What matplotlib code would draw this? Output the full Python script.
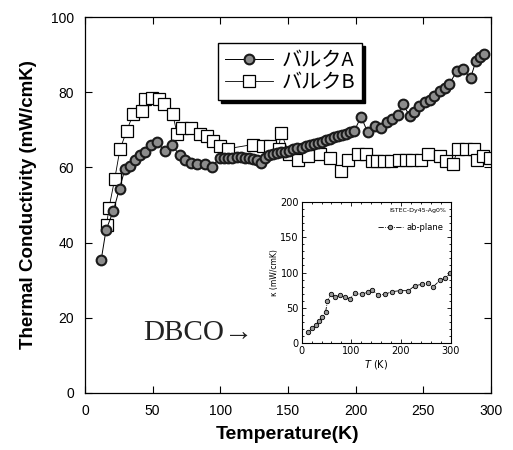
import matplotlib
matplotlib.use("Agg")
import matplotlib.pyplot as plt
from matplotlib.ticker import MultipleLocator

# ---- Data: main panel ----
bulkA_T = [12, 15.5, 21, 25.5, 29.5, 33, 37, 40.5, 44, 49, 53, 59, 64,
           70, 74, 78.5, 83, 88.5, 93.5, 99.5, 103, 106, 109, 112, 115,
           118, 121, 124, 127, 130, 133, 136, 139, 142, 145, 148, 151,
           154, 157, 160, 163, 166, 169, 172, 175, 178, 181, 184, 187,
           190, 193, 196, 199, 204, 209, 214, 219, 223, 227, 231, 235,
           240, 243, 247, 251, 255, 258, 262, 266, 269, 275, 279, 285,
           289, 292, 295]
bulkA_k = [35.5, 43.3, 48.5, 54.4, 59.5, 60.5, 62.1, 63.2, 64.0, 65.9, 66.8,
           64.4, 66.1, 63.2, 62.1, 61.1, 60.8, 60.8, 60.0, 62.6, 62.4, 62.5,
           62.6, 62.8, 62.7, 62.4, 62.6, 62.3, 61.9, 61.3, 62.6, 63.2, 63.5,
           63.8, 64.1, 64.2, 64.5, 64.9, 65.2, 65.3, 65.6, 65.9, 66.2, 66.5,
           66.9, 67.3, 67.6, 68.0, 68.3, 68.7, 69.0, 69.3, 69.7, 73.5, 69.3,
           71.0, 70.6, 72.0, 72.8, 74.0, 76.8, 73.7, 74.8, 76.3, 77.3, 78.0,
           79.0, 80.4, 81.2, 82.1, 85.7, 86.1, 83.9, 88.4, 89.5, 90.1]

bulkB_T = [16, 17.7, 22, 25.8, 30.8, 35.7, 41.8, 44.3, 49.5, 54.5, 58.5,
           64.8, 68, 72, 78.7, 84.9, 89.8, 94.7, 99.6, 105.8, 124, 131.6,
           137, 143, 145, 151, 157.4, 165, 173.4, 181, 189.4, 194.3, 201.7,
           207.9, 212, 216, 221, 226, 232, 237, 242, 248.5, 253.4, 262, 267,
           271.8, 275.5, 281.7, 287.8, 289.5, 294, 299]
bulkB_k = [44.8, 49.2, 57.0, 64.8, 69.7, 74.3, 75.0, 78.1, 78.6, 78.1, 77.0,
           74.3, 69.0, 70.4, 70.6, 68.8, 68.4, 67.0, 65.7, 65.0, 66.1, 65.7,
           65.7, 65.0, 69.2, 63.5, 62.1, 63.0, 63.5, 62.6, 59.0, 62.1, 63.5,
           63.5, 61.7, 61.7, 61.7, 61.7, 62.1, 62.1, 62.1, 62.1, 63.5, 63.0,
           61.7, 60.8, 64.8, 64.8, 64.8, 62.1, 63.0, 62.6]

# ---- Data: inset ----
ab_T = [13.4, 20, 28, 35, 41.6, 48.3, 52, 59, 67, 77, 87, 97, 107, 121,
        134, 142, 154, 168, 181, 198, 215, 228, 242, 255, 265, 279, 289, 299]
ab_k = [15.5, 21, 26, 31.5, 37.6, 44.7, 60, 69.2, 65.9, 68.2, 65.9, 62.6,
        70.6, 69.2, 72.9, 75.3, 68.2, 69.2, 72.9, 74.4, 74.4, 81.4, 83.3,
        84.7, 80, 89.4, 91.8, 98.8]

labelA = "バルクA"
labelB = "バルクB"

tick_font = ["Liberation Sans Narrow", "Liberation Sans", "DejaVu Sans"]
bold_font = ["Liberation Sans", "DejaVu Sans"]
jp_font = ["Noto Sans CJK JP", "DejaVu Sans"]

fig = plt.figure(figsize=(5.13, 4.5), dpi=100)
ax = fig.add_axes([0.1657, 0.1267, 0.7913, 0.8353])

ax.plot(bulkB_T, bulkB_k, '-', color='black', lw=0.6, marker='s', ms=8.5,
        mfc='white', mec='black', mew=0.9, label=labelB, zorder=2)
ax.plot(bulkA_T, bulkA_k, '-', color='black', lw=0.7, marker='o', ms=7.0,
        mfc='#8c8c8c', mec='#1a1a1a', mew=1.5, label=labelA, zorder=3)

ax.set_xlim(0, 300)
ax.set_ylim(0, 100)
ax.xaxis.set_major_locator(MultipleLocator(50))
ax.yaxis.set_major_locator(MultipleLocator(20))
ax.tick_params(direction='in', top=True, right=True, length=5, width=0.8,
               labelsize=10, pad=8)
for lab in ax.get_xticklabels() + ax.get_yticklabels():
    lab.set_family(tick_font)
for s in ax.spines.values():
    s.set_linewidth(0.9)

ax.set_xlabel("Temperature(K)", family=bold_font, fontweight='bold',
              fontsize=14, labelpad=6)
ax.set_ylabel("Thermal Conductivity (mW/cmK)", family=bold_font,
              fontweight='bold', fontsize=13.5, labelpad=10)

handles, labels = ax.get_legend_handles_labels()
leg = ax.legend(handles[::-1], labels[::-1], loc='upper left',
                bbox_to_anchor=(0.3276, 0.931), borderaxespad=0,
                frameon=True, fancybox=False,
                shadow={'color': 'black', 'alpha': 1.0, 'ox': 2, 'oy': -2},
                prop={'family': jp_font, 'size': 14.5}, handlelength=2.4,
                handletextpad=0.4, borderpad=0.35, labelspacing=0.05)
leg.get_frame().set_edgecolor('black')
leg.get_frame().set_linewidth(1.0)

ax.text(0.143, 0.16, "DBCO→", transform=ax.transAxes,
        family=["Liberation Serif", "DejaVu Serif"], fontsize=21,
        color='#222222', va='center')

# ---- inset ----
ins = fig.add_axes([0.588, 0.237, 0.2905, 0.3148])
ins.plot(ab_T, ab_k, linestyle='-.', color='black', lw=0.6, marker='o',
         ms=3.2, mfc='#999999', mec='black', mew=0.6, label='ab-plane')
ins.set_xlim(0, 300)
ins.set_ylim(0, 200)
ins.xaxis.set_major_locator(MultipleLocator(100))
ins.xaxis.set_minor_locator(MultipleLocator(20))
ins.yaxis.set_major_locator(MultipleLocator(50))
ins.yaxis.set_minor_locator(MultipleLocator(10))
ins.tick_params(which='both', direction='in', top=True, right=True,
                labelsize=7, pad=2, width=0.6)
ins.tick_params(which='major', length=3)
ins.tick_params(which='minor', length=1.5)
for s in ins.spines.values():
    s.set_linewidth(0.8)
ins.set_xlabel(r"$T$ (K)", fontsize=7, labelpad=1)
ins.set_ylabel("κ (mW/cmK)", fontsize=5.5, labelpad=1)
ins.text(0.97, 0.94, "ISTEC-Dy45-Ag0%", transform=ins.transAxes,
         fontsize=4.5, ha='right', va='center')
ins.legend(loc='upper right', bbox_to_anchor=(1.0, 0.9), frameon=False,
           fontsize=6, handlelength=3, handletextpad=0.4)

fig.savefig("out.png", dpi=100)
